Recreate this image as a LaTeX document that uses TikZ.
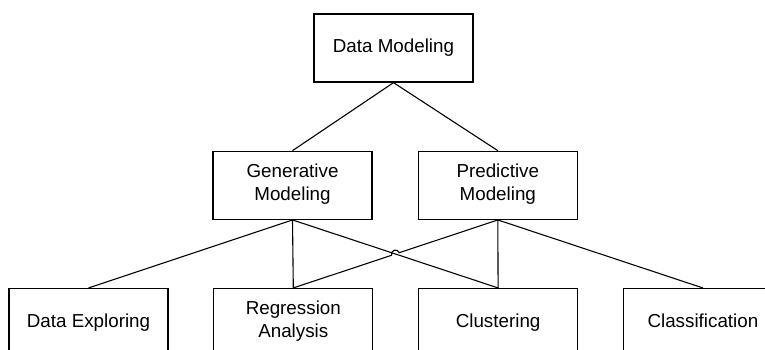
\documentclass[tikz,border=0pt]{standalone}
\usepackage{fontspec}
\setmainfont{Liberation Sans}
\usetikzlibrary{positioning,calc,intersections}

\tikzset{
  box/.style = {draw, line width=1.3pt, minimum width=159pt, minimum height=68pt,
                inner sep=0pt, align=center, font=\fontsize{18.8}{23}\selectfont,
                execute at begin node=\strut, execute at end node=\strut},
  link/.style = {line width=1.1pt}
}

\begin{document}
\begin{tikzpicture}[x=1pt,y=1pt]
  \useasboundingbox (0,0) rectangle (765,350);

  % levels
  \node[box] (dm) at (393.5,302) {Data Modeling};
  \node[box, below=68pt of dm, xshift=-101pt] (gen) {Generative\\Modeling};
  \node[box, right=45pt of gen] (pre) {Predictive\\Modeling};

  \node[box, below=68pt of gen, xshift=-204pt] (dex) {Data Exploring};
  \node[box, right=44.5pt of dex] (reg) {Regression\\Analysis};
  \node[box, right=44.5pt of reg] (clu) {Clustering};
  \node[box, right=44.5pt of clu] (cla) {Classification};

  % links
  \draw[link] (dm.south) -- (gen.north);
  \draw[link] (dm.south) -- (pre.north);
  \draw[link] (gen.south) -- (dex.north);
  \draw[link] (gen.south) -- (reg.north);
  \draw[link, name path=gc] (gen.south) -- (clu.north);
  \draw[link] (pre.south) -- (clu.north);
  \draw[link] (pre.south) -- (cla.north);

  % crossing with a hop
  \path[name path=pr] (pre.south) -- (reg.north);
  \path[name intersections={of=gc and pr, by=x}];
  \draw[link] (pre.south) -- ($(x)!4pt!(pre.south)$)
    arc[start angle=18.4, end angle=198.4, radius=4pt] -- (reg.north);
\end{tikzpicture}
\end{document}
